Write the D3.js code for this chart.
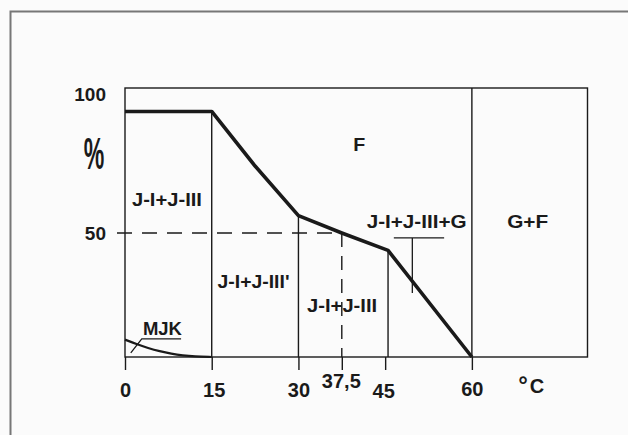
<!DOCTYPE html>
<html>
<head>
<meta charset="utf-8">
<script src="https://cdn.jsdelivr.net/npm/d3@7"></script>
<style>
  html, body { margin: 0; padding: 0; background: #fbfbfb; }
  svg { display: block; }
  text { font-family: "Liberation Sans", Arial, sans-serif; font-weight: bold; fill: #1a1a1a; }
</style>
</head>
<body>
<svg id="chart" width="628" height="435"></svg>
<script>
// ---- data ----
const xTickValues = [0, 15, 30, 37.5, 45, 60];
const xTickLabels = ["0", "15", "30", "37,5", "45", "60"];
const yTickValues = [50, 100];
const yTickLabels = ["50", "100"];
// main (thick) phase boundary: temperature °C, percent
const boundaryT = [0, 15, 22.5, 30, 37.5, 45.5, 60];
const boundaryP = [99, 99, 77, 57, 50, 43, 0];
// MJK curve
const mjkT = [0, 2, 4, 6, 8, 10, 12, 15];
const mjkP = [7, 5.2, 3.6, 2.3, 1.3, 0.6, 0.2, 0];
// vertical phase boundaries (temperature) — thin lines going from the thick curve down to 0
const verticalT = [15, 30, 45.5];
// region labels
const regionNames = ["J-I+J-III", "J-I+J-III'", "J-I+J-III", "F", "J-I+J-III+G", "G+F", "MJK"];
const regionT = [1.2, 16.0, 31.5, 39.5, 41.8, 66.1, 3.1];
const regionP = [61, 28, 18, 83, 52, 52, 8.9];

// ---- layout ----
const svg = d3.select("#chart");
const margin = { left: 125, right: 40, top: 88, bottom: 78 };
const W = 628, H = 435;
const x = d3.scaleLinear().domain([0, 80]).range([margin.left, W - margin.right - 0.5]);
const y = d3.scaleLinear().domain([0, 100]).range([H - margin.bottom, 109]);
const yTop = y.invert(margin.top);
const ink = "#1a1a1a";

// outer scan frame
svg.append("path").attr("d", `M10.5,435 V11.5 H628`).attr("fill", "none")
  .attr("stroke", "#777").attr("stroke-width", 2);

// plot frame
svg.append("rect")
  .attr("x", x(0)).attr("y", y(yTop))
  .attr("width", x(80) - x(0)).attr("height", y(0) - y(yTop))
  .attr("fill", "none").attr("stroke", ink).attr("stroke-width", 1.4);

// x axis ticks (below the baseline)
const xAxis = d3.axisBottom(x).tickValues(xTickValues).tickSize(13).tickFormat("");
const gx = svg.append("g").attr("transform", `translate(0,${y(0)})`).call(xAxis);
gx.select(".domain").remove();
gx.selectAll(".tick line").attr("stroke", ink).attr("stroke-width", 1.4);

// x tick labels
const xLabelDy = [0, 0, 0, -9, 1, -1];
const xLabelDx = [0, 2, 0, -1, -2, 0];
gx.selectAll(".tick").append("text")
  .attr("x", (d, i) => xLabelDx[i])
  .attr("y", (d, i) => 40 + xLabelDy[i])
  .attr("text-anchor", "middle")
  .style("font-size", "20px")
  .attr("fill", ink)
  .text((d, i) => xTickLabels[xTickValues.indexOf(d)]);

// °C
const unit = svg.append("text").attr("x", x(68)).attr("y", y(0) + 36).style("font-size", "20px");
unit.append("tspan").text("°").style("font-size", "24px").attr("dy", 0);
unit.append("tspan").text("C").attr("dx", 2);

// y labels
svg.selectAll(".ylab").data(yTickValues).enter().append("text")
  .attr("class", "ylab")
  .attr("x", 106).attr("text-anchor", "end")
  .attr("y", d => d === 100 ? 100.5 : y(d) + 7)
  .style("font-size", "19px")
  .text((d, i) => yTickLabels[i]);

// % sign (stretched)
svg.append("text")
  .attr("transform", `translate(94,169) scale(1.05,2.0)`)
  .attr("text-anchor", "middle")
  .style("font-size", "22px")
  .text("%");

// dashed 50% line and dashed 37.5 vertical
svg.append("line")
  .attr("x1", x(0) - 8).attr("x2", x(37.5)).attr("y1", y(50)).attr("y2", y(50))
  .attr("stroke", ink).attr("stroke-width", 1.4).attr("stroke-dasharray", "15,10");
svg.append("line")
  .attr("x1", x(37.5)).attr("x2", x(37.5)).attr("y1", y(50)).attr("y2", y(0))
  .attr("stroke", ink).attr("stroke-width", 1.4).attr("stroke-dasharray", "14,9");

// vertical boundaries from the curve
const boundary = boundaryT.map((t, i) => [t, boundaryP[i]]);
const interp = t => {
  for (let i = 0; i < boundary.length - 1; i++) {
    const a = boundary[i], b = boundary[i + 1];
    if (t >= a[0] && t <= b[0]) return a[1] + (b[1] - a[1]) * (t - a[0]) / (b[0] - a[0]);
  }
  return 0;
};
svg.selectAll(".vb").data(verticalT).enter().append("line")
  .attr("x1", d => x(d)).attr("x2", d => x(d))
  .attr("y1", d => y(interp(d))).attr("y2", y(0))
  .attr("stroke", ink).attr("stroke-width", 1.4);
// 60 °C boundary full height
svg.append("line").attr("x1", x(60)).attr("x2", x(60)).attr("y1", y(yTop)).attr("y2", y(0))
  .attr("stroke", ink).attr("stroke-width", 1.4);

// thick boundary curve
svg.append("path")
  .attr("d", d3.line().x(d => x(d[0])).y(d => y(d[1])).curve(d3.curveLinear)(boundary))
  .attr("fill", "none").attr("stroke", ink).attr("stroke-width", 3.6).attr("stroke-linejoin", "round");

// MJK curve
const mjk = mjkT.map((t, i) => [t, mjkP[i]]);
svg.append("path")
  .attr("d", d3.line().x(d => x(d[0])).y(d => y(d[1])).curve(d3.curveBasis)(mjk))
  .attr("fill", "none").attr("stroke", ink).attr("stroke-width", 2.2);

// region labels
const labelW = [70, 72, 70, 12, 100, 41, 39];
svg.selectAll(".reg").data(regionNames).enter().append("text")
  .attr("class", "reg")
  .attr("x", (d, i) => x(regionT[i]))
  .attr("y", (d, i) => y(regionP[i]))
  .attr("textLength", (d, i) => labelW[i])
  .attr("lengthAdjust", "spacingAndGlyphs")
  .style("font-size", "18px")
  .text(d => d);

// leader for J-I+J-III+G
svg.append("line").attr("x1", x(46.5)).attr("x2", x(55.2)).attr("y1", y(48)).attr("y2", y(48))
  .attr("stroke", ink).attr("stroke-width", 1.3);
svg.append("line").attr("x1", x(49.7)).attr("x2", x(49.7)).attr("y1", y(48)).attr("y2", y(25.8))
  .attr("stroke", ink).attr("stroke-width", 1.3);

// leader for MJK
svg.append("path")
  .attr("d", `M${x(9.7)},${y(7.3)} H${x(2.9)} L${x(1)},${y(1.7)}`)
  .attr("fill", "none").attr("stroke", ink).attr("stroke-width", 1.3);
</script>
</body>
</html>
